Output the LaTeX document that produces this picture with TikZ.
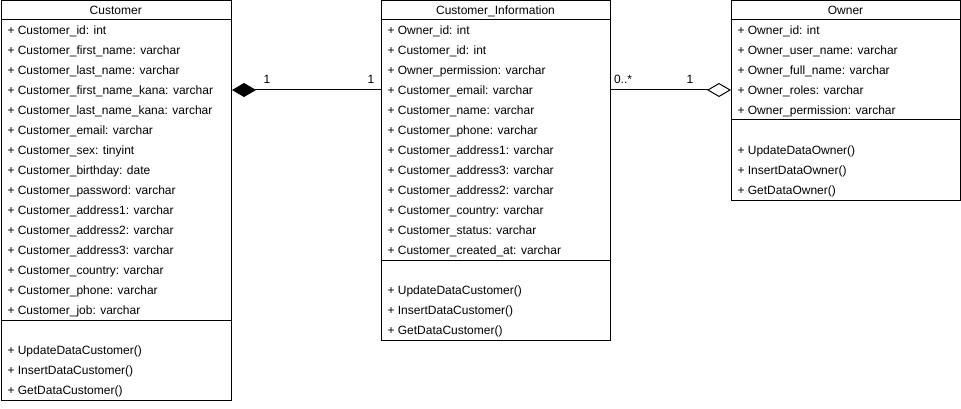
\documentclass[tikz,border=0pt]{standalone}
\usepackage{fontspec}
\setmainfont{Liberation Sans}
\usetikzlibrary{arrows.meta}
\begin{document}
\begin{tikzpicture}[x=1pt,y=-1pt,line width=1pt,
  classbox/.style={draw,rectangle,inner sep=0pt,anchor=north west},
  txt/.style={font=\fontsize{12}{14}\selectfont,inner sep=0pt,text height=9.5pt,text depth=0pt},
  title/.style={txt,anchor=center},
  member/.style={txt,anchor=west},
  mult/.style={txt,anchor=center},
]
\useasboundingbox (0,0) rectangle (961,409);

% ---------- Customer ----------
\node[classbox,minimum width=230.5pt,minimum height=399.5pt] (cust) at (0.5,0.5) {};
\node[title] (custT) at (115.75,10) {Customer};
\draw (0.5,20) -- (231,20);
\foreach \t [count=\i] in {Customer\_id: int,Customer\_first\_name: varchar,Customer\_last\_name: varchar,Customer\_first\_name\_kana: varchar,Customer\_last\_name\_kana: varchar,Customer\_email: varchar,Customer\_sex: tinyint,Customer\_birthday: date,Customer\_password: varchar,Customer\_address1: varchar,Customer\_address2: varchar,Customer\_address3: varchar,Customer\_country: varchar,Customer\_phone: varchar,Customer\_job: varchar}
  \node[member] (c\i) at (7,10+20*\i) {+ \t};
\draw (0.5,320) -- (231,320);
\foreach \t [count=\i] in {UpdateDataCustomer(),InsertDataCustomer(),GetDataCustomer()}
  \node[member] (cm\i) at (7,330+20*\i) {+ \t};

% ---------- Customer_Information ----------
\node[classbox,minimum width=229pt,minimum height=339.5pt] (info) at (381,0.5) {};
\node[title] (infoT) at (495.5,10) {Customer\_Information};
\draw (381,20) -- (610,20);
\foreach \t [count=\i] in {Owner\_id: int,Customer\_id: int,Owner\_permission: varchar,Customer\_email: varchar,Customer\_name: varchar,Customer\_phone: varchar,Customer\_address1: varchar,Customer\_address3: varchar,Customer\_address2: varchar,Customer\_country: varchar,Customer\_status: varchar,Customer\_created\_at: varchar}
  \node[member] (i\i) at (387,10+20*\i) {+ \t};
\draw (381,260) -- (610,260);
\foreach \t [count=\i] in {UpdateDataCustomer(),InsertDataCustomer(),GetDataCustomer()}
  \node[member] (im\i) at (387,270+20*\i) {+ \t};

% ---------- Owner ----------
\node[classbox,minimum width=229pt,minimum height=199.5pt] (own) at (731,0.5) {};
\node[title] (ownT) at (845.5,10) {Owner};
\draw (731,20) -- (960,20);
\foreach \t [count=\i] in {Owner\_id: int,Owner\_user\_name: varchar,Owner\_full\_name: varchar,Owner\_roles: varchar,Owner\_permission: varchar}
  \node[member] (o\i) at (737,10+20*\i) {+ \t};
\draw (731,120) -- (960,120);
\foreach \t [count=\i] in {UpdateDataOwner(),InsertDataOwner(),GetDataOwner()}
  \node[member] (om\i) at (737,130+20*\i) {+ \t};

% ---------- connectors ----------
\draw[{Diamond[length=24pt,width=14pt]}-] (cust.east |- c4) -- (info.west |- i4);
\draw[-{Diamond[open,length=24pt,width=14pt]}] (info.east |- i4) -- (own.west |- o4);

\node[mult] (m1) at (267,79) {1};
\node[mult] (m2) at (371,79) {1};
\node[mult] (m3) at (623,79) {0..*};
\node[mult] (m4) at (690,79) {1};
\end{tikzpicture}
\end{document}
